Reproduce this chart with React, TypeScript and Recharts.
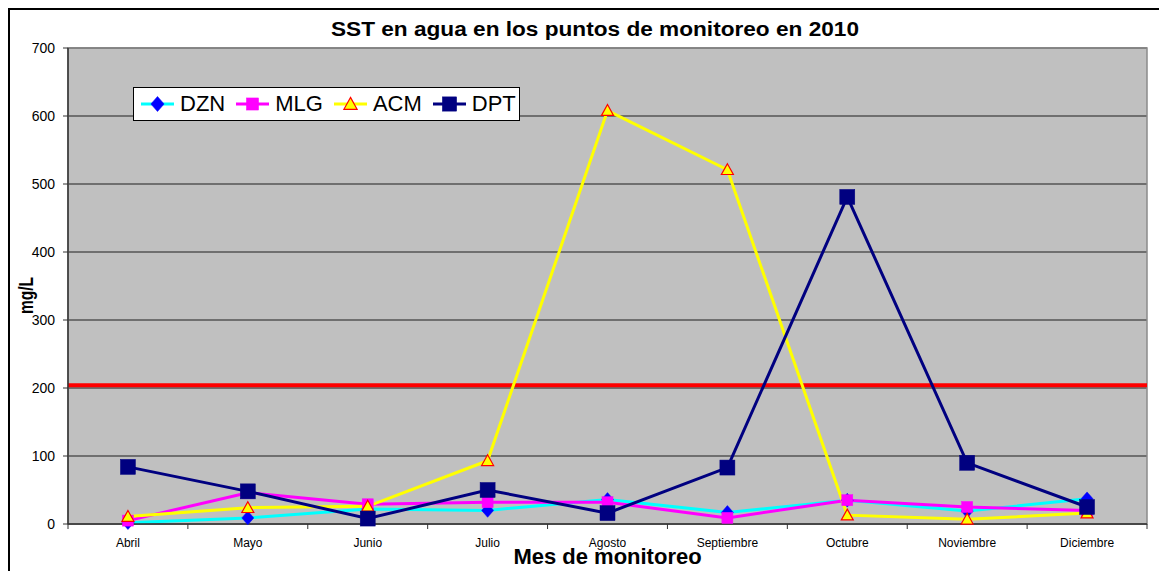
import React from 'react';
import {
  LineChart,
  Line,
  XAxis,
  YAxis,
  CartesianGrid,
  ReferenceLine,
  ReferenceArea,
  Legend,
} from 'recharts';

// ---------- data ----------
const months = ['Abril', 'Mayo', 'Junio', 'Julio', 'Agosto', 'Septiembre', 'Octubre', 'Noviembre', 'Diciembre'];
const dzn = [2, 9, 22, 20, 36, 17, 35, 19, 37];
const mlg = [5, 46, 29, 32, 32, 9, 35, 25, 20];
const acm = [11, 24, 26, 93, 608, 521, 13, 7, 16];
const dpt = [84, 48, 8, 50, 16, 83, 481, 90, 25];
const yTicks = [0, 100, 200, 300, 400, 500, 600, 700];
const limitValue = 204;
const seriesNames = ['DZN', 'MLG', 'ACM', 'DPT'];

const titleText = 'SST en agua en los puntos de monitoreo en 2010';
const xTitle = 'Mes de monitoreo';
const yTitle = 'mg/L';

const data = months.map((m, i) => ({
  month: m,
  DZN: dzn[i],
  MLG: mlg[i],
  ACM: acm[i],
  DPT: dpt[i],
}));

// ---------- styles ----------
const FONT = "'Liberation Sans', Arial, Helvetica, sans-serif";

type MarkerStyle = {
  line: string;
  shape: 'diamond' | 'square' | 'triangle';
  fill: string;
  stroke: string;
  size: number;
};

const seriesStyles: Record<string, MarkerStyle> = {
  DZN: { line: '#00FFFF', shape: 'diamond', fill: '#0000FF', stroke: '#0000FF', size: 12 },
  MLG: { line: '#FF00FF', shape: 'square', fill: '#FF00FF', stroke: '#FF00FF', size: 11 },
  ACM: { line: '#FFFF00', shape: 'triangle', fill: '#FFFF00', stroke: '#FF0000', size: 12 },
  DPT: { line: '#000080', shape: 'square', fill: '#000080', stroke: '#000080', size: 15 },
};

function Marker({ st, cx, cy, scale = 1 }: { st: MarkerStyle; cx: number; cy: number; scale?: number }) {
  const size = st.size * scale;
  const h = size / 2;
  if (st.shape === 'diamond') {
    return (
      <polygon
        points={`${cx},${cy - h * 1.15} ${cx + h},${cy} ${cx},${cy + h * 1.15} ${cx - h},${cy}`}
        fill={st.fill}
        stroke={st.stroke}
        strokeWidth={0.5}
      />
    );
  }
  if (st.shape === 'triangle') {
    return (
      <polygon
        points={`${cx},${cy - h} ${cx + h},${cy + h * 0.8} ${cx - h},${cy + h * 0.8}`}
        fill={st.fill}
        stroke={st.stroke}
        strokeWidth={1.2}
      />
    );
  }
  return (
    <rect x={cx - h} y={cy - h} width={size} height={size} fill={st.fill} stroke={st.stroke} strokeWidth={0.5} />
  );
}

const makeDot = (name: string) => (p: any) => {
  if (p.cx == null || p.cy == null) return <g key={`${name}-${p.index}`} />;
  return (
    <g key={`${name}-${p.index}`}>
      <Marker st={seriesStyles[name]} cx={p.cx} cy={p.cy} />
    </g>
  );
};

const X_TICK_MARGIN = 23;

function XTick(props: any) {
  const { x, y, payload, index, visibleTicksCount } = props;
  const off = payload && payload.offset ? payload.offset : 0;
  const ay = y - X_TICK_MARGIN;
  return (
    <g>
      <line x1={x - off} x2={x - off} y1={ay} y2={ay + 5} stroke="#333" strokeWidth={1} />
      {index === visibleTicksCount - 1 && (
        <line x1={x + off} x2={x + off} y1={ay} y2={ay + 5} stroke="#333" strokeWidth={1} />
      )}
      <text x={x} y={y} textAnchor="middle" fontSize={12} fill="#000" fontFamily={FONT}>
        {payload.value}
      </text>
    </g>
  );
}

const renderXLabel = (p: any) => {
  const vb = p.viewBox || {};
  return (
    <text
      x={vb.x + vb.width / 2}
      y={vb.y + 40}
      textAnchor="middle"
      fontSize={22}
      fontWeight="bold"
      fill="#000"
      fontFamily={FONT}
    >
      {xTitle}
    </text>
  );
};

const renderYLabel = (p: any) => {
  const vb = p.viewBox || {};
  const cx = vb.x + 23;
  const cy = vb.y + vb.height / 2 + 9.5;
  return (
    <text
      x={cx}
      y={cy}
      transform={`rotate(-90, ${cx}, ${cy})`}
      textAnchor="middle"
      fontSize={20}
      fontWeight="bold"
      fill="#000"
      fontFamily={FONT}
      textLength={37}
      lengthAdjust="spacingAndGlyphs"
    >
      {yTitle}
    </text>
  );
};

function LegendBox() {
  return (
    <div
      style={{
        boxSizing: 'border-box',
        width: 387,
        height: 34,
        border: '1px solid #000',
        background: '#fff',
        display: 'flex',
        alignItems: 'center',
        paddingLeft: 7,
        fontFamily: FONT,
        fontSize: 22,
        color: '#000',
        lineHeight: '22px',
      }}
    >
      {seriesNames.map((name) => {
        const st = seriesStyles[name];
        return (
          <div key={name} style={{ display: 'flex', alignItems: 'center', marginRight: 11 }}>
            <svg width={33} height={20} style={{ display: 'block' }}>
              <line x1={0} x2={33} y1={10} y2={10} stroke={st.line} strokeWidth={3} />
              <Marker st={st} cx={16.5} cy={10} scale={name === 'DPT' ? 0.95 : 1.1} />
            </svg>
            <span style={{ marginLeft: 6 }}>{name}</span>
          </div>
        );
      })}
    </div>
  );
}

export default function App() {
  return (
    <div
      style={{
        position: 'relative',
        width: 1159,
        height: 563,
        boxSizing: 'border-box',
        borderLeft: '2px solid #000',
        borderTop: '2px solid #000',
        overflow: 'hidden',
        background: '#fff',
        fontFamily: FONT,
      }}
    >
      <LineChart
        width={1157}
        height={561}
        data={data}
        margin={{ top: 38, right: 20, bottom: 6, left: 0 }}
      >
        <CartesianGrid vertical={false} stroke="#555" strokeWidth={1.5} fill="#C0C0C0" fillOpacity={1} />
        <ReferenceArea y1={0} y2={700} fill="none" fillOpacity={0} stroke="#8a8a8a" strokeWidth={1.5} />
        <XAxis
          dataKey="month"
          type="category"
          scale="band"
          height={41}
          interval={0}
          tickSize={0}
          tickMargin={X_TICK_MARGIN}
          tickLine={false}
          axisLine={{ stroke: '#333', strokeWidth: 1.5 }}
          tick={<XTick />}
          label={{ content: renderXLabel }}
        />
        <YAxis
          type="number"
          domain={[0, 700]}
          ticks={yTicks}
          interval={0}
          width={58}
          tickSize={5}
          tickMargin={8}
          axisLine={{ stroke: '#333', strokeWidth: 1.5 }}
          tickLine={{ stroke: '#333' }}
          tick={{ fontSize: 14, fill: '#000', fontFamily: FONT }}
          label={{ content: renderYLabel }}
        />
        <ReferenceLine y={limitValue} stroke="#FF0000" strokeWidth={4} />
        {seriesNames.map((name) => (
          <Line
            key={name}
            type="linear"
            dataKey={name}
            stroke={seriesStyles[name].line}
            strokeWidth={3}
            dot={makeDot(name)}
            activeDot={false}
            isAnimationActive={false}
          />
        ))}
        <Legend
          layout="horizontal"
          verticalAlign="middle"
          align="center"
          wrapperStyle={{ left: 123, top: 77, width: 387, height: 34 }}
          content={() => <LegendBox />}
        />
      </LineChart>
      <svg
        width={1157}
        height={40}
        style={{ position: 'absolute', left: 0, top: 0, pointerEvents: 'none' }}
      >
        <text
          x={585}
          y={26}
          textAnchor="middle"
          fontSize={20}
          fontWeight="bold"
          fill="#000"
          fontFamily={FONT}
          textLength={528}
          lengthAdjust="spacingAndGlyphs"
        >
          {titleText}
        </text>
      </svg>
    </div>
  );
}
